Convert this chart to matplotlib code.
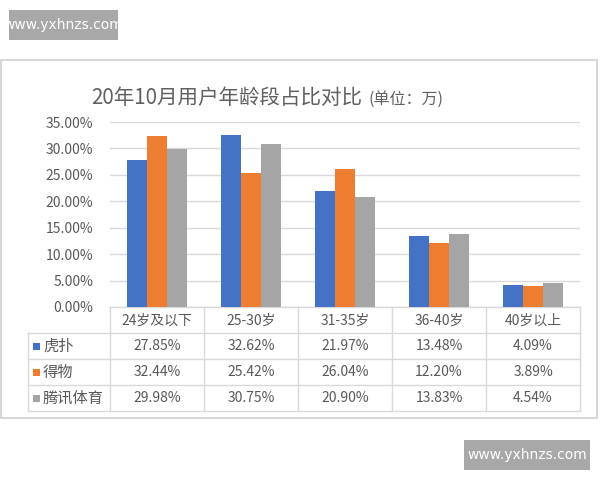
# -*- coding:utf-8 -*-
# Age group share comparison, Excel-style column chart with data table

import matplotlib
matplotlib.use('Agg')
import matplotlib.pyplot as plt
import numpy as np

plt.rcParams['font.family'] = ['Noto Sans CJK SC', 'DejaVu Sans']

# ==============================================================================
# data
title_main = '20年10月用户年龄段占比对比'
title_unit = '(单位：万)'
categories = ['24岁及以下', '25-30岁', '31-35岁', '36-40岁', '40岁以上']
series_names = ['虎扑', '得物', '腾讯体育']
hupu = [27.85, 32.62, 21.97, 13.48, 4.09]
dewu = [32.44, 25.42, 26.04, 12.20, 3.89]
tencent = [29.98, 30.75, 20.90, 13.83, 4.54]
y_ticks = [0, 5, 10, 15, 20, 25, 30, 35]
watermark = 'www.yxhnzs.com'

colors = ['#4472C4', '#ED7D31', '#A5A5A5']
text_col = '#595959'
grid_col = '#d9d9d9'

W, H = 600, 480
x0, x1 = 110, 580      # plot area in pixels
y_top, y_bot = 122, 307
cat_w = (x1 - x0) / len(categories)

# ==============================================================================
fig = plt.figure(figsize=(W / 100, H / 100), dpi=100)

# background canvas in pixel coordinates
bg = fig.add_axes([0, 0, 1, 1])
bg.set_xlim(0, W)
bg.set_ylim(H, 0)
bg.axis('off')

# chart frame
bg.add_patch(plt.Rectangle((1, 60), 596, 358, fill=False,
                           edgecolor='#d0d0d0', lw=1.2))

# watermarks
for (wx, wy, ww, wh) in [(9, 10, 109, 30), (464, 440, 126, 30)]:
    bg.add_patch(plt.Rectangle((wx, wy), ww, wh, color='#a8a8a8', lw=0))
    bg.text(wx + ww / 2, wy + wh / 2, watermark, color='white',
            fontsize=10, ha='center', va='center', family='DejaVu Sans')

# title
bg.text(91, 98, title_main, fontsize=14.8, color='#606060',
        ha='left', va='center', fontweight='light')
bg.text(368, 99, title_unit, fontsize=11.5, color='#606060',
        ha='left', va='center', fontweight='light')

# ==============================================================================
# bars
ax = fig.add_axes([x0 / W, 1 - y_bot / H, (x1 - x0) / W, (y_bot - y_top) / H])
ax.patch.set_alpha(0)
x = np.arange(len(categories))
bw = 0.215
for k, vals in enumerate([hupu, dewu, tencent]):
    ax.bar(x + (k - 1) * bw, vals, bw, color=colors[k], zorder=3)
ax.set_xlim(-0.5, len(categories) - 0.5)
ax.set_ylim(0, 35)
ax.set_yticks(y_ticks)
ax.set_yticklabels(['%.2f%%' % v for v in y_ticks], color=text_col,
                   fontsize=10)
ax.set_xticks([])
ax.tick_params(axis='y', length=0, pad=12)
ax.grid(axis='y', color=grid_col, lw=1, zorder=0)
for s in ['top', 'right', 'left', 'bottom']:
    ax.spines[s].set_visible(False)

# ==============================================================================
# data table
row_y = [307, 333, 359, 385, 411]
tab_left = 28
for k in range(len(categories) + 1):
    bg.plot([x0 + k * cat_w] * 2, [row_y[0], row_y[-1]], color=grid_col,
            lw=1)
bg.plot([tab_left, tab_left], [row_y[1], row_y[-1]], color=grid_col, lw=1)
for yy in row_y[1:]:
    bg.plot([tab_left, x1], [yy, yy], color=grid_col, lw=1)
bg.plot([x0, x1], [row_y[0], row_y[0]], color=grid_col, lw=1)

for i, c in enumerate(categories):
    bg.text(x0 + (i + 0.5) * cat_w, (row_y[0] + row_y[1]) / 2 + 1, c,
            fontsize=10, color=text_col, ha='center', va='center')

for r, (name, vals) in enumerate(zip(series_names, [hupu, dewu, tencent])):
    yc = (row_y[r + 1] + row_y[r + 2]) / 2
    bg.add_patch(plt.Rectangle((33, yc - 3.5), 7, 7, color=colors[r], lw=0))
    bg.text(43, yc, name, fontsize=11, color=text_col, ha='left',
            va='center')
    for i, v in enumerate(vals):
        bg.text(x0 + (i + 0.5) * cat_w, yc, '%.2f%%' % v, fontsize=10,
                color=text_col, ha='center', va='center')

fig.savefig('out.png', dpi=100, facecolor='white')
